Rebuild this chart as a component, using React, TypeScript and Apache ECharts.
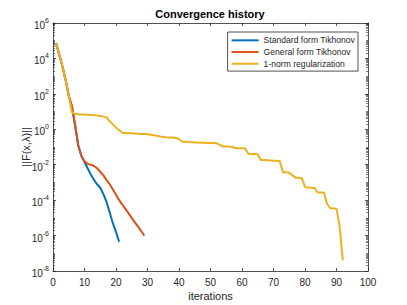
import React, { useEffect, useRef } from "react";
import * as echarts from "echarts";

// ||F(x, lambda)|| per iteration (iteration = index + 1)
const standardTikhonov = [
  6.9e4, 1.6e4, 3.5e3, 630, 79, 20, 1.6, 0.126, 0.0316, 0.0141,
  0.0063, 0.0028, 0.0014, 7.9e-4, 5.0e-4, 2.2e-4, 7.9e-5, 2.0e-5, 5.0e-6, 1.6e-6,
  4.5e-7,
];

const generalTikhonov = [
  6.9e4, 1.6e4, 3.5e3, 630, 79, 20, 2.0, 0.126, 0.0316, 0.0158,
  0.0112, 0.01, 0.0085, 0.0063, 0.004, 0.0025, 0.0014, 7.9e-4, 4.0e-4, 2.0e-4,
  1.0e-4, 5.6e-5, 3.2e-5, 1.8e-5, 1.0e-5, 5.6e-6, 3.2e-6, 1.8e-6, 1.0e-6,
];

const oneNormReg = [
  6.9e4, 1.6e4, 3.5e3, 630, 79, 8.9, 7.2, 7.1, 6.9, 6.8,
  6.6, 6.5, 6.3, 6.0, 5.8, 5.2, 4.7, 2.8, 1.9, 1.26,
  0.89, 0.63, 0.62, 0.6, 0.59, 0.575, 0.56, 0.55, 0.54, 0.525,
  0.49, 0.457, 0.427, 0.398, 0.372, 0.355, 0.347, 0.339, 0.324, 0.282,
  0.2, 0.195, 0.19, 0.186, 0.182, 0.178, 0.174, 0.174, 0.17, 0.166,
  0.166, 0.162, 0.132, 0.105, 0.105, 0.105, 0.1, 0.085, 0.085, 0.085,
  0.085, 0.041, 0.04, 0.04, 0.039, 0.0186, 0.0182, 0.0178, 0.0174, 0.017,
  0.0166, 0.0162, 0.0038, 0.0037, 0.00355, 0.0025, 0.00186, 0.00182, 0.00174, 5.4e-4,
  5.25e-4, 5.0e-4, 4.9e-4, 2.7e-4, 2.7e-4, 2.7e-4, 6.3e-5, 3.5e-5, 3.45e-5, 3.2e-5,
  3.2e-6, 4e-8,
];

const seriesNames = [
  "Standard form Tikhonov",
  "General form Tikhonov",
  "1-norm regularization",
];
const seriesColors = ["#0072BD", "#D95319", "#EDB120"];

const yMajorTicks = [1e-8, 1e-6, 1e-4, 1e-2, 1, 1e2, 1e4, 1e6];
const yMinorTicks: number[] = [];
for (let d = -8; d < 6; d++) {
  for (let k = 1; k <= 9; k++) {
    if (k === 1 && d % 2 === 0) continue;
    yMinorTicks.push(Number((k * Math.pow(10, d)).toPrecision(3)));
  }
}

const axisColor = "#262626";
const font = "Arial";

export default function App() {
  const ref = useRef<HTMLDivElement>(null);
  useEffect(() => {
    if (!ref.current) return;
    const chart = echarts.init(ref.current, undefined, { renderer: "svg" });
    const toPairs = (arr: number[]) => arr.map((v, i) => [i + 1, v]);
    const datasets = [standardTikhonov, generalTikhonov, oneNormReg];

    const baseY = {
      type: "log" as const,
      logBase: 10,
      min: 1e-8,
      max: 1e6,
      splitLine: { show: false },
      minorTick: { show: false },
    };
    const baseX = {
      type: "value" as const,
      min: 0,
      max: 100,
      interval: 10,
      splitLine: { show: false },
      axisLine: { show: true, lineStyle: { color: axisColor, width: 0.8 } },
      axisTick: { show: true, inside: true, length: 3, lineStyle: { color: axisColor, width: 0.8 } },
    };

    chart.setOption({
      animation: false,
      backgroundColor: "#ffffff",
      textStyle: { fontFamily: font },
      title: {
        text: "Convergence history",
        left: 210,
        top: 8,
        padding: 0,
        textAlign: "center",
        textStyle: { fontSize: 11, fontWeight: "bold", color: "#000", fontFamily: font },
      },
      legend: {
        orient: "vertical",
        right: 49,
        top: 32,
        padding: [2.5, 3, 1.5, 4],
        itemGap: 0,
        itemWidth: 27,
        itemHeight: 2,
        icon: "rect",
        borderColor: axisColor,
        borderWidth: 0.8,
        borderRadius: 0,
        backgroundColor: "#fff",
        data: seriesNames,
        textStyle: { fontSize: 8.6, color: axisColor, fontFamily: font, lineHeight: 11.7 },
      },
      grid: { left: 53, right: 39, top: 23, bottom: 34, outerBoundsMode: "none", containLabel: false },
      xAxis: [
        {
          ...baseX,
          position: "bottom",
          axisLabel: { color: axisColor, fontSize: 10, margin: 6, fontFamily: font },
          name: "iterations",
          nameLocation: "middle",
          nameGap: 19,
          nameMoveOverlap: false,
          nameTextStyle: { color: axisColor, fontSize: 11, fontFamily: font },
        },
        {
          ...baseX,
          position: "top",
          axisLabel: { show: false },
        },
      ],
      yAxis: [
        {
          ...baseY,
          position: "left",
          axisLine: { show: true, lineStyle: { color: axisColor, width: 0.8 } },
          axisTick: { show: true, inside: true, length: 3, customValues: yMajorTicks, lineStyle: { color: axisColor, width: 0.8 } },
          axisLabel: {
            show: true,
            customValues: yMajorTicks,
            margin: 4,
            color: axisColor,
            fontFamily: font,
            formatter: (v: number) => `{b|10}{s|${Math.round(Math.log10(v))}}`,
            rich: {
              b: { fontSize: 10, color: axisColor, fontFamily: font, padding: [5, 0, 0, 0] },
              s: { fontSize: 7, color: axisColor, fontFamily: font, padding: [0, 0, 5, 0] },
            },
          },
          name: "||F(x,λ)||",
          nameLocation: "middle",
          nameGap: 22,
          nameMoveOverlap: false,
          nameTextStyle: { color: axisColor, fontSize: 11, fontFamily: font },
        },
        {
          ...baseY,
          position: "left",
          axisLine: { show: false },
          axisTick: { show: true, inside: true, length: 2, customValues: yMinorTicks, lineStyle: { color: axisColor, width: 0.6 } },
          axisLabel: { show: false },
        },
        {
          ...baseY,
          position: "right",
          axisLine: { show: true, lineStyle: { color: axisColor, width: 0.8 } },
          axisTick: { show: true, inside: true, length: 3, customValues: yMajorTicks, lineStyle: { color: axisColor, width: 0.8 } },
          axisLabel: { show: false },
        },
        {
          ...baseY,
          position: "right",
          axisLine: { show: false },
          axisTick: { show: true, inside: true, length: 2, customValues: yMinorTicks, lineStyle: { color: axisColor, width: 0.6 } },
          axisLabel: { show: false },
        },
      ],
      series: datasets.map((d, i) => ({
        name: seriesNames[i],
        type: "line",
        xAxisIndex: 0,
        yAxisIndex: 0,
        data: toPairs(d),
        showSymbol: false,
        symbol: "none",
        color: seriesColors[i],
        lineStyle: { color: seriesColors[i], width: 2 },
        z: 2 + i,
      })),
    });
    return () => chart.dispose();
  }, []);

  return (
    <div
      ref={ref}
      style={{ position: "fixed", left: 0, top: 0, width: 407, height: 305 }}
    />
  );
}
